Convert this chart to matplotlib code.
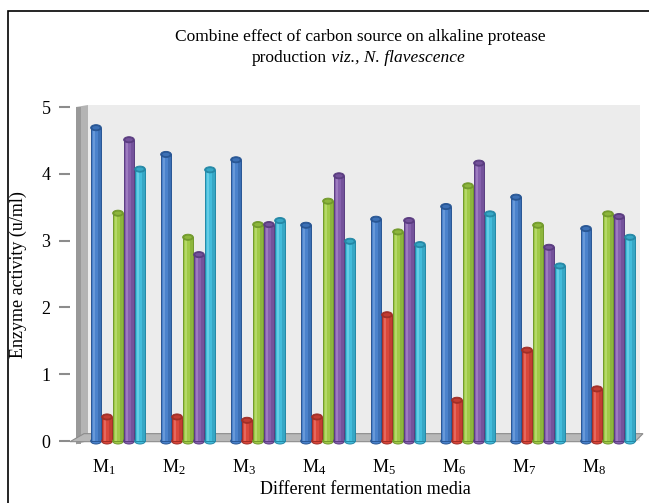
import matplotlib
matplotlib.use("Agg")
import matplotlib.pyplot as plt
from matplotlib.patches import Rectangle, Ellipse, Polygon

plt.rcParams['font.family'] = ['Liberation Serif', 'DejaVu Serif']
plt.rcParams['mathtext.fontset'] = 'custom'
plt.rcParams['mathtext.rm'] = 'Liberation Serif'
plt.rcParams['mathtext.it'] = 'Liberation Serif:italic'

# Data
media = ['M$_1$', 'M$_2$', 'M$_3$', 'M$_4$', 'M$_5$', 'M$_6$', 'M$_7$', 'M$_8$']
blue = [4.69, 4.29, 4.21, 3.23, 3.32, 3.51, 3.65, 3.18]
red = [0.36, 0.36, 0.31, 0.36, 1.89, 0.61, 1.36, 0.78]
green = [3.41, 3.05, 3.24, 3.59, 3.13, 3.82, 3.23, 3.40]
purple = [4.51, 2.79, 3.24, 3.97, 3.30, 4.16, 2.90, 3.36]
cyan = [4.07, 4.06, 3.30, 2.99, 2.94, 3.40, 2.62, 3.05]

series = [blue, red, green, purple, cyan]
# (body, dark edge, highlight)
colors = [('#4a82cc', '#285694', '#86b0e4'),
          ('#d9473b', '#a02e27', '#f08a7e'),
          ('#a0ca48', '#729a2c', '#cbe68a'),
          ('#8661ad', '#5a3c80', '#b497d2'),
          ('#43bcdb', '#2488a6', '#8adcf0')]

W, H = 649, 503
fig = plt.figure(figsize=(W / 100, H / 100), dpi=100)

# outer frame (only left and top edges visible)
fig.patches.append(Rectangle((8 / W, -0.1), 1.2, 1.1 - 11 / H, transform=fig.transFigure,
                             fill=False, edgecolor='black', linewidth=1.2))

# axes: value 0 at pixel row 441, value 5 at row 107
ppu = (441 - 107) / 5.0
ax_top, ax_bot = 100, 450
ax = fig.add_axes([70 / W, (H - ax_bot) / H, (645 - 70) / W, (ax_bot - ax_top) / H])
ax.set_ylim(-(ax_bot - 441) / ppu, 5 + (107 - ax_top) / ppu)

gx0, gdx = 118, 70.0


def px2x(p):
    return (p - gx0) / gdx


ax.set_xlim(px2x(70), px2x(645))
for s in ax.spines.values():
    s.set_visible(False)

# back wall
ax.add_patch(Rectangle((px2x(88), 0), px2x(640) - px2x(88), 5.03, facecolor='#ececec',
                       edgecolor='none', zorder=0))
# left wall
ax.add_patch(Polygon([(px2x(76), -0.05), (px2x(88), 0.0), (px2x(88), 5.03), (px2x(76), 5.0)],
                     closed=True, facecolor='#b4b4b4', edgecolor='none', zorder=1))
ax.add_patch(Rectangle((px2x(76), -0.05), px2x(81) - px2x(76), 5.05, facecolor='#999999',
                       edgecolor='none', zorder=1))
# floor
ax.add_patch(Polygon([(px2x(70), -0.01), (px2x(635), -0.01), (px2x(643), 0.11), (px2x(84), 0.11)],
                     closed=True, facecolor='#b8b8b8', edgecolor='#8c8c8c', linewidth=0.8, zorder=1))

step, bw = 0.157, 0.152
for k, vals in enumerate(series):
    body, dark, light = colors[k]
    xs = [i + (k - 2) * step for i in range(len(vals))]
    ax.bar(xs, vals, width=bw, color=body, edgecolor=dark, linewidth=0.7, zorder=3 + k)
    ax.bar([x - bw * 0.18 for x in xs], vals, width=bw * 0.22, color=light, alpha=0.5,
           linewidth=0, zorder=3 + k)
    ax.bar([x + bw * 0.33 for x in xs], vals, width=bw * 0.3, color=dark, alpha=0.4,
           linewidth=0, zorder=3 + k)
    for x, v in zip(xs, vals):
        ax.add_patch(Ellipse((x, 0.0), bw, 0.09, facecolor=body, edgecolor=dark,
                             linewidth=0.7, zorder=2.9 + k))
        ax.add_patch(Ellipse((x, v), bw, 0.09, facecolor=dark, edgecolor=dark,
                             linewidth=0.7, zorder=3.1 + k))
        ax.add_patch(Ellipse((x, v), bw * 0.7, 0.05, facecolor=body, edgecolor='none',
                             alpha=0.6, zorder=3.2 + k))

ax.set_yticks(range(6))
ax.set_yticklabels([str(i) for i in range(6)], fontsize=13)
ax.tick_params(axis='y', length=8, width=1.5, color='#8c8c8c', pad=6, direction='out')
ax.set_xticks([i - 0.2 for i in range(len(media))])
ax.set_xticklabels(media, fontsize=13)
ax.tick_params(axis='x', length=0, pad=5)

fig.text(360 / W, 1 - 37 / H, 'Combine effect of carbon source on alkaline protease',
         ha='center', va='center', fontsize=12.5)
fig.text(327 / W, 1 - 58 / H, 'production', ha='right', va='center', fontsize=12.5)
fig.text(327 / W, 1 - 58 / H, ' viz., N. flavescence', ha='left', va='center',
         fontsize=12.5, style='italic')
fig.text(18 / W, 1 - 275 / H, 'Enzyme activity (u/ml)', rotation=90,
         ha='center', va='center', fontsize=13)
fig.text(365 / W, 1 - 490 / H, 'Different fermentation media', ha='center', va='center',
         fontsize=13)

fig.savefig('out.png', dpi=100)
